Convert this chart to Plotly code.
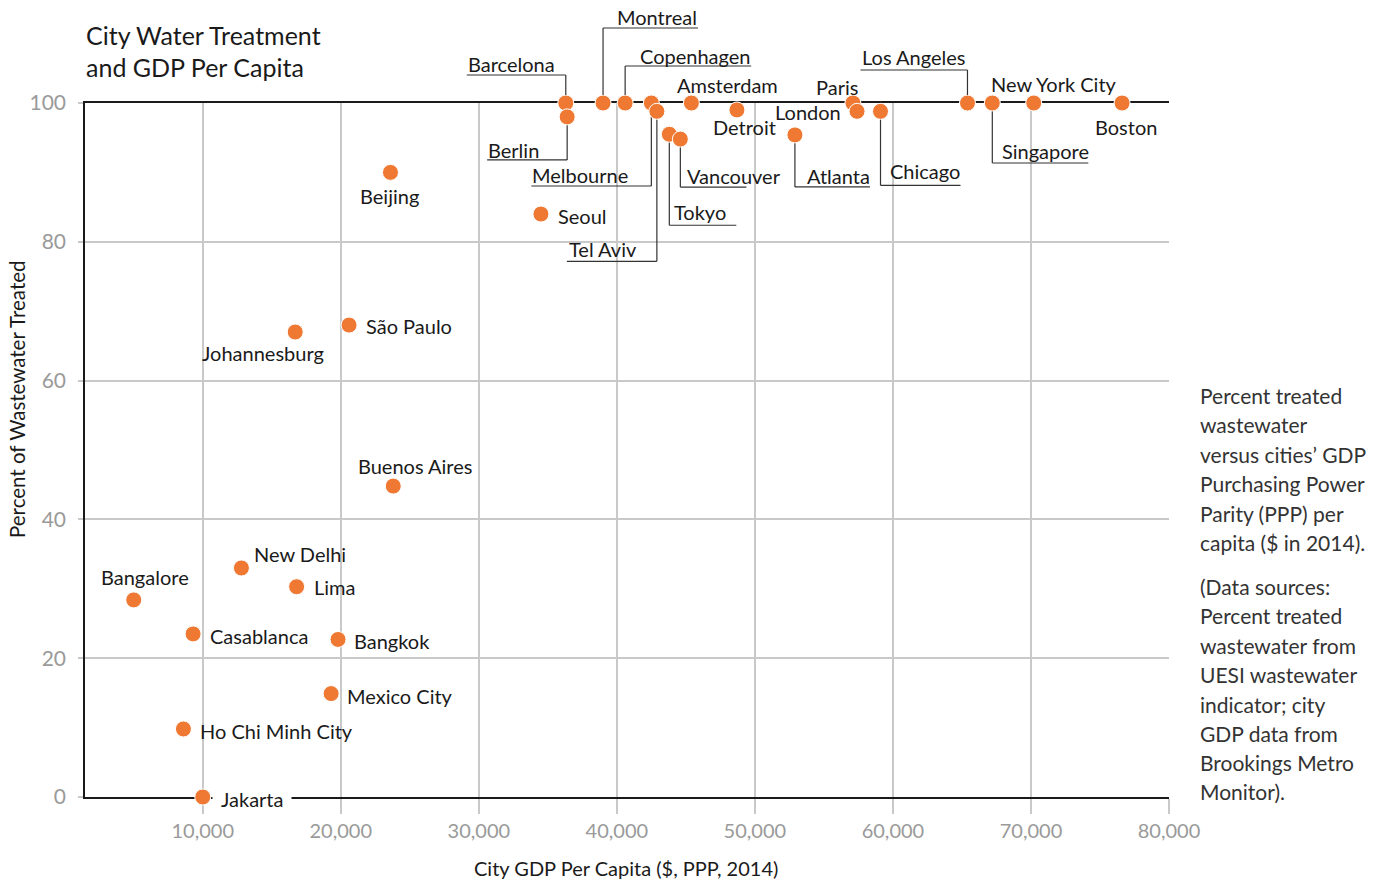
import plotly.graph_objects as go

# --- data -------------------------------------------------------------------
cities = [
    "Barcelona", "Berlin", "Montreal", "Copenhagen", "Melbourne", "Tel Aviv",
    "Amsterdam", "Detroit", "Tokyo", "Vancouver", "Atlanta", "Paris", "London",
    "Chicago", "Los Angeles", "Singapore", "New York City", "Boston",
    "Beijing", "Seoul", "São Paulo", "Johannesburg", "Buenos Aires",
    "New Delhi", "Lima", "Bangalore", "Casablanca", "Bangkok", "Mexico City",
    "Ho Chi Minh City", "Jakarta",
]
gdp_per_capita = [
    36300, 36400, 39000, 40600, 42500, 42900,
    45400, 48700, 43800, 44600, 52900, 57100, 57400,
    59100, 65400, 67200, 70200, 76600,
    23600, 34500, 20600, 16700, 23800,
    12800, 16800, 5000, 9300, 19800, 19300,
    8600, 10000,
]
pct_treated = [
    100, 98, 100, 100, 100, 98.8,
    100, 99, 95.5, 94.8, 95.4, 100, 98.8,
    98.8, 100, 100, 100, 100,
    90, 84, 68, 67, 44.8,
    33, 30.3, 28.4, 23.5, 22.7, 14.9,
    9.8, 0,
]
x_ticks = [10000, 20000, 30000, 40000, 50000, 60000, 70000, 80000]
y_ticks = [0, 20, 40, 60, 80, 100]

# --- styling ----------------------------------------------------------------
FONT = "Lato"
ORANGE = "#ef7932"
INK = "#1a1a1a"
GRID = "#c9c9c9"
TICK_TXT = "#9a9a9a"
LEADER = "#333333"

W, H = 1383, 884
M_L, M_R, M_T, M_B = 85, 214, 103, 87
PLOT_W = W - M_L - M_R
PLOT_H = H - M_T - M_B
MARKER_R = 8


def px(x):
    """Horizontal pixel -> paper fraction."""
    return (x - M_L) / PLOT_W


def py(y):
    """Vertical pixel (from top) -> paper fraction."""
    return (H - M_B - y) / PLOT_H


# label placement: (xanchor, dx, dy) in screen pixels from the marker centre
label_pos = {
    "Barcelona": ("left", -99, -39),
    "Berlin": ("left", -80, 33),
    "Montreal": ("right", 95, -86),
    "Copenhagen": ("right", 127, -47),
    "Melbourne": ("left", -120, 72),
    "Tel Aviv": ("left", -89, 138),
    "Amsterdam": ("center", 36, -18),
    "Detroit": ("center", 8, 17),
    "Tokyo": ("left", 4, 78),
    "Vancouver": ("left", 6, 37),
    "Atlanta": ("right", 76, 41),
    "Paris": ("center", -16, -16),
    "London": ("right", -15, 1),
    "Chicago": ("right", 80, 60),
    "Los Angeles": ("left", -106, -46),
    "Singapore": ("left", 9, 48),
    "New York City": ("center", 20, -19),
    "Boston": ("center", 4, 24),
    "Beijing": ("center", -1, 24),
    "Seoul": ("left", 16, 2),
    "São Paulo": ("left", 16, 1),
    "Johannesburg": ("center", -32, 21),
    "Buenos Aires": ("center", 22, -20),
    "New Delhi": ("left", 12, -14),
    "Lima": ("left", 16, 0),
    "Bangalore": ("center", 11, -23),
    "Casablanca": ("left", 16, 2),
    "Bangkok": ("left", 15, 2),
    "Mexico City": ("left", 15, 2),
    "Ho Chi Minh City": ("left", 16, 2),
    "Jakarta": ("left", 9, 2),
}

# elbow leader lines: (vertical run, horizontal run) in screen pixels,
# negative vertical run = upwards (these start on the top edge of the axes)
leaders = {
    "Barcelona": (-28, -99),
    "Montreal": (-75, 95),
    "Copenhagen": (-37, 126),
    "Berlin": (43, -80),
    "Melbourne": (83, -120),
    "Tel Aviv": (150, -90),
    "Tokyo": (91, 67),
    "Vancouver": (48, 66),
    "Atlanta": (52, 75),
    "Chicago": (74, 80),
    "Los Angeles": (-33, -107),
    "Singapore": (60, 96),
}

fig = go.Figure()

fig.add_trace(go.Scatter(
    x=gdp_per_capita,
    y=pct_treated,
    mode="markers",
    text=cities,
    marker=dict(size=2 * MARKER_R, color=ORANGE, line=dict(color="white", width=1)),
    cliponaxis=False,
    hovertemplate="%{text}<br>%{x:,}<br>%{y}%<extra></extra>",
    showlegend=False,
))

shapes = []
for name, (vy, hx) in leaders.items():
    i = cities.index(name)
    gx, gy = gdp_per_capita[i], pct_treated[i]
    if vy < 0:
        # rises above the axes: anchor on the paper top edge (the 100 line)
        # and start at the marker rim, drawn over the plot
        common = dict(
            type="line", xref="x", yref="paper", xsizemode="pixel",
            ysizemode="pixel", xanchor=gx, yanchor=1, layer="above",
            line=dict(color=LEADER, width=1.2),
        )
        shapes.append(dict(common, x0=0, x1=0, y0=MARKER_R, y1=-vy))
    else:
        common = dict(
            type="line", xref="x", yref="y", xsizemode="pixel",
            ysizemode="pixel", xanchor=gx, yanchor=gy, layer="between",
            line=dict(color=LEADER, width=1.2),
        )
        shapes.append(dict(common, x0=0, x1=0, y0=0, y1=-vy))
    shapes.append(dict(common, x0=0, x1=hx, y0=-vy, y1=-vy))

annotations = []
for name, gx, gy in zip(cities, gdp_per_capita, pct_treated):
    anchor, dx, dy = label_pos[name]
    on_axis = name == "Jakarta"  # label sits on the x axis line, knock it out
    annotations.append(dict(
        x=gx, y=gy, xref="x", yref="y", text=name, showarrow=False,
        xanchor=anchor, yanchor="middle", xshift=dx, yshift=-dy,
        font=dict(family=FONT, size=20, color=INK),
        bgcolor="white" if on_axis else None,
        borderpad=8 if on_axis else 0,
    ))

# chart title
for txt, yy in [("City Water Treatment", 35), ("and GDP Per Capita", 67)]:
    annotations.append(dict(
        x=px(84), y=py(yy), xref="paper", yref="paper", text=txt,
        showarrow=False, xanchor="left", yanchor="middle",
        font=dict(family=FONT, size=25, color=INK),
    ))

# axis titles
annotations.append(dict(
    x=px(626), y=py(868), xref="paper", yref="paper",
    text="City GDP Per Capita ($, PPP, 2014)", showarrow=False,
    xanchor="center", yanchor="middle",
    font=dict(family=FONT, size=20, color=INK),
))
annotations.append(dict(
    x=px(17), y=py(400), xref="paper", yref="paper",
    text="Percent of Wastewater Treated", showarrow=False, textangle=-90,
    xanchor="center", yanchor="middle",
    font=dict(family=FONT, size=20.5, color=INK),
))

# side note
note_lines = [
    ("Percent treated", 395), ("wastewater", 424), ("versus cities’ GDP", 454),
    ("Purchasing Power", 483), ("Parity (PPP) per", 513),
    ("capita ($ in 2014).", 542),
    ("(Data sources:", 586), ("Percent treated", 615), ("wastewater from", 645),
    ("UESI wastewater", 674), ("indicator; city", 704), ("GDP data from", 733),
    ("Brookings Metro", 762), ("Monitor).", 791),
]
for txt, yy in note_lines:
    annotations.append(dict(
        x=px(1198), y=py(yy), xref="paper", yref="paper", text=txt,
        showarrow=False, xanchor="left", yanchor="middle",
        font=dict(family=FONT, size=21, color="#333333"),
    ))

fig.update_layout(
    width=W, height=H,
    margin=dict(l=M_L, r=M_R, t=M_T, b=M_B, pad=0),
    paper_bgcolor="white", plot_bgcolor="white",
    shapes=shapes, annotations=annotations,
    xaxis=dict(
        range=[1470, 80000], tickvals=x_ticks,
        ticktext=[f"{v:,}" for v in x_ticks],
        showgrid=True, gridcolor=GRID, gridwidth=1.5,
        showline=True, linecolor=INK, linewidth=1.5, mirror=True,
        ticks="outside", ticklen=15, tickcolor=GRID, tickwidth=1.5,
        tickfont=dict(family=FONT, size=20, color=TICK_TXT),
        zeroline=False, layer="below traces",
    ),
    yaxis=dict(
        range=[0, 100], tickvals=y_ticks,
        showgrid=True, gridcolor=GRID, gridwidth=1.5,
        showline=True, linecolor=INK, linewidth=1.5,
        ticks="outside", ticklen=5, tickcolor=GRID, tickwidth=1.5,
        tickfont=dict(family=FONT, size=21, color=TICK_TXT),
        ticklabelstandoff=8,
        zeroline=False, layer="below traces",
    ),
)

fig.write_html("out.html")
